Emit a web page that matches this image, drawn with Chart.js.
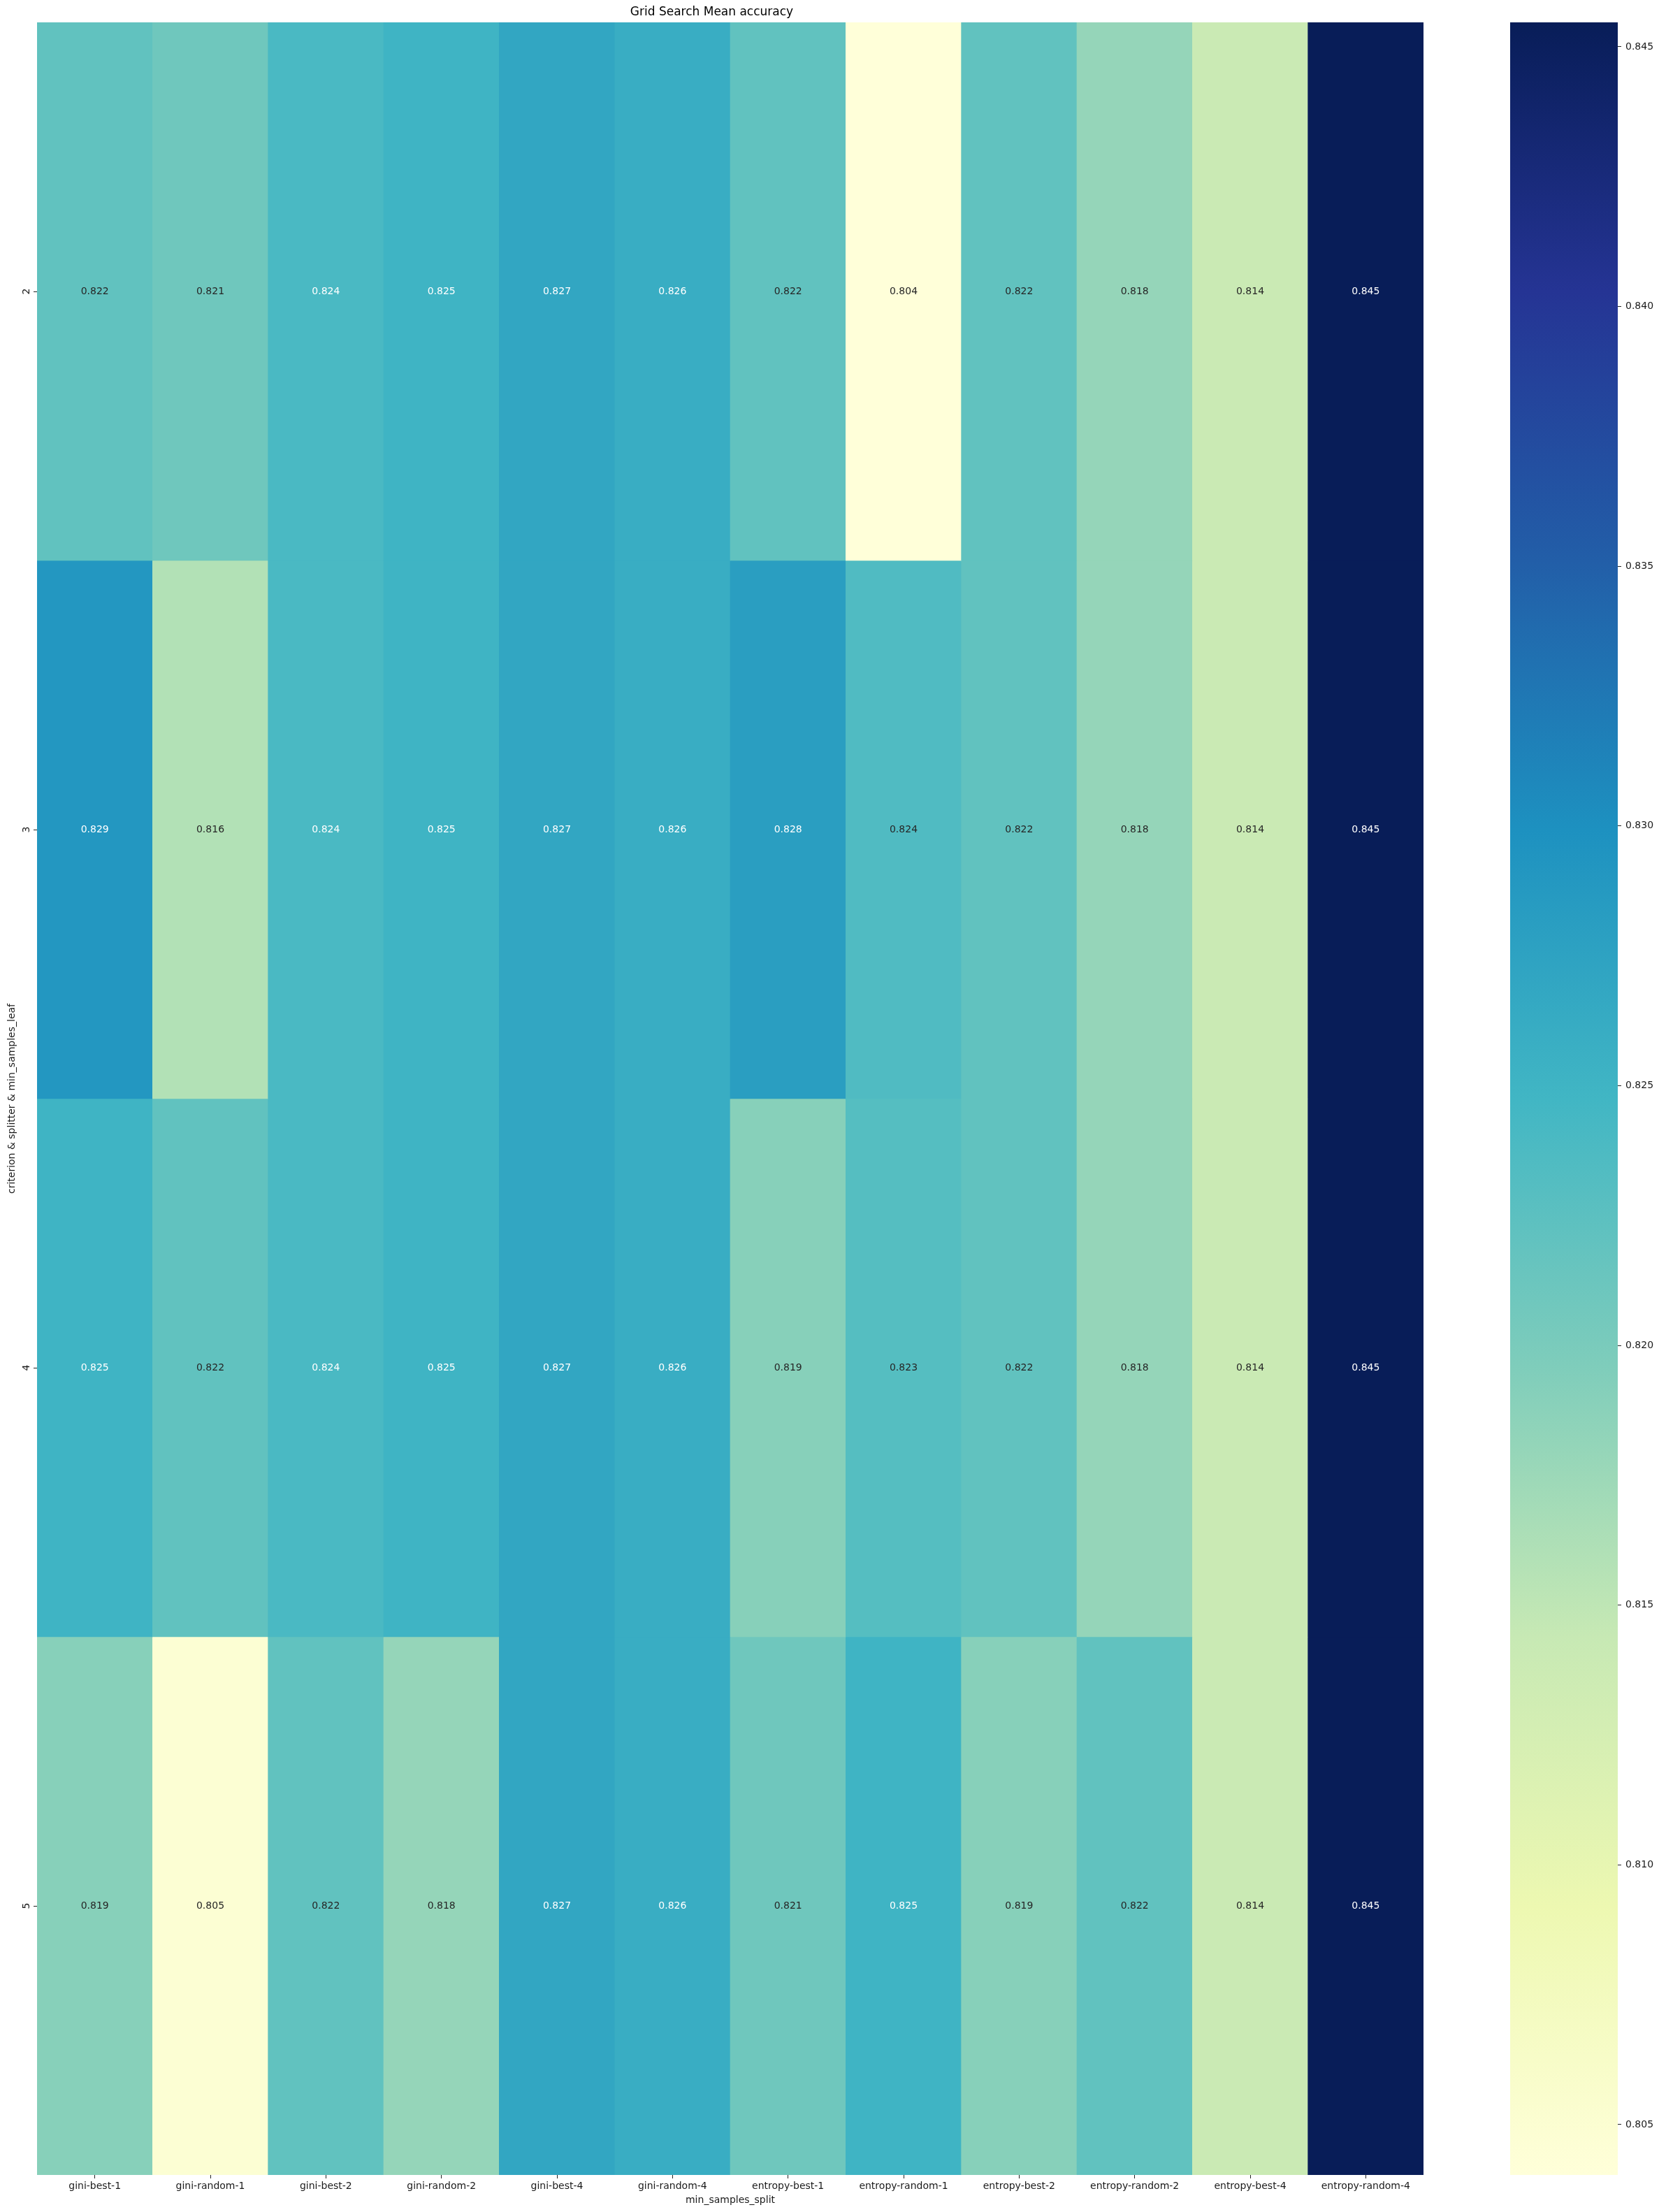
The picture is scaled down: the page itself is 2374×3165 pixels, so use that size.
<!DOCTYPE html>
<html>
<head>
<meta charset="utf-8">
<script src="https://cdn.jsdelivr.net/npm/chart.js@4/dist/chart.umd.min.js"></script>
<style>
  html, body { margin: 0; padding: 0; background: #fff; }
  #heat { position: absolute; left: 0; top: 0; }
  #bar { position: absolute; left: 2161px; top: 0; }
</style>
</head>
<body>
<canvas id="heat" width="2090" height="3165"></canvas>
<canvas id="bar" width="213" height="3165"></canvas>
<script>
// grid search results, one array per min_samples_leaf
const columns = ['gini-best-1', 'gini-random-1', 'gini-best-2', 'gini-random-2', 'gini-best-4', 'gini-random-4',
  'entropy-best-1', 'entropy-random-1', 'entropy-best-2', 'entropy-random-2', 'entropy-best-4', 'entropy-random-4'];
const rowLabels = ['2', '3', '4', '5'];
const leaf2 = [0.822, 0.821, 0.8241, 0.825, 0.827, 0.826, 0.822, 0.80403, 0.822, 0.818, 0.814, 0.84547];
const leaf3 = [0.829, 0.816, 0.8241, 0.825, 0.827, 0.826, 0.828, 0.8236, 0.822, 0.818, 0.814, 0.84547];
const leaf4 = [0.825, 0.822, 0.8241, 0.825, 0.827, 0.826, 0.819, 0.823, 0.822, 0.818, 0.814, 0.84547];
const leaf5 = [0.819, 0.805, 0.822, 0.818, 0.827, 0.826, 0.821, 0.825, 0.819, 0.822, 0.814, 0.84547];
const cbTicks = [0.805, 0.810, 0.815, 0.820, 0.825, 0.830, 0.835, 0.840, 0.845];

const rows = [leaf2, leaf3, leaf4, leaf5];
const all = rows.flat();
const vmin = Math.min(...all);
const vmax = Math.max(...all);

// YlGnBu
const ylgnbu = ['#ffffd9', '#edf8b1', '#c7e9b4', '#7fcdbb', '#41b6c4', '#1d91c0', '#225ea8', '#253494', '#081d58'];
const stops = ylgnbu.map(h => [parseInt(h.slice(1, 3), 16), parseInt(h.slice(3, 5), 16), parseInt(h.slice(5, 7), 16)]);

function rgbOf(v) {
  let t = (v - vmin) / (vmax - vmin);
  t = Math.max(0, Math.min(1, t));
  const idx = Math.min(255, Math.floor(t * 256));
  const x = idx / 255 * 8;
  const i = Math.min(7, Math.floor(x));
  const f = x - i;
  return stops[i].map((c, k) => c + (stops[i + 1][k] - c) * f);
}
function cmap(v) {
  const c = rgbOf(v);
  return 'rgb(' + c.map(Math.round).join(',') + ')';
}
function textColor(v) {
  const lin = rgbOf(v).map(c => {
    c = c / 255;
    return c <= 0.03928 ? c / 12.92 : Math.pow((c + 0.055) / 1.055, 2.4);
  });
  const lum = 0.2126 * lin[0] + 0.7152 * lin[1] + 0.0722 * lin[2];
  return lum > 0.408 ? '#262626' : '#ffffff';
}

const font = 'DejaVu Sans';
Chart.defaults.font.family = font;
Chart.defaults.color = '#1a1a1a';

const annotate = {
  id: 'annotate',
  afterDatasetsDraw(chart) {
    const ctx = chart.ctx;
    ctx.save();
    ctx.font = '14px "' + font + '"';
    ctx.textAlign = 'center';
    ctx.textBaseline = 'middle';
    chart.data.datasets.forEach((ds, d) => {
      chart.getDatasetMeta(d).data.forEach((el, j) => {
        const v = ds.acc[j];
        ctx.fillStyle = textColor(v);
        ctx.fillText(v.toFixed(3), el.x, (el.y + el.base) / 2);
      });
    });
    ctx.restore();
  }
};

new Chart(document.getElementById('heat'), {
  type: 'bar',
  data: {
    labels: columns,
    datasets: rows.map((vals, r) => ({
      label: rowLabels[r],
      data: vals.map(() => 1),
      acc: vals,
      backgroundColor: vals.map(cmap),
      borderWidth: 0,
      barPercentage: 1,
      categoryPercentage: 1
    }))
  },
  options: {
    responsive: false,
    animation: false,
    layout: { padding: { left: 0, right: 53, top: 0, bottom: 0 } },
    plugins: {
      legend: { display: false },
      tooltip: { enabled: false },
      title: {
        display: true,
        text: 'Grid Search Mean accuracy',
        color: '#000',
        font: { size: 17, weight: 'normal' },
        padding: { top: 7.8, bottom: 3.8 }
      }
    },
    scales: {
      x: {
        stacked: true,
        grid: { offset: false, drawOnChartArea: false, tickLength: 5, color: '#222' },
        border: { display: false },
        ticks: { font: { size: 14 }, color: '#1a1a1a', padding: 3, maxRotation: 0, autoSkip: false },
        title: { display: true, text: 'min_samples_split', font: { size: 14 }, color: '#1a1a1a', padding: { top: 0, bottom: 8.6 } },
        afterFit: s => { s.height = 53; }
      },
      y: {
        stacked: true,
        min: 0,
        max: 4,
        reverse: true,
        afterBuildTicks: s => { s.ticks = rowLabels.map((_, i) => ({ value: i + 0.5 })); },
        grid: { drawOnChartArea: false, tickLength: 5, color: '#222' },
        border: { display: false },
        ticks: {
          font: { size: 14 }, color: '#1a1a1a', padding: 5,
          minRotation: 90, maxRotation: 90, crossAlign: 'center',
          callback: (v, i) => rowLabels[i]
        },
        title: { display: true, text: 'criterion & splitter & min_samples_leaf', font: { size: 14 }, color: '#1a1a1a', padding: { top: 8.6, bottom: 0 } },
        afterFit: s => { s.width = 53; }
      }
    }
  },
  plugins: [annotate]
});

// colour bar
new Chart(document.getElementById('bar'), {
  type: 'bar',
  data: {
    labels: [''],
    datasets: [{
      data: [[vmin, vmax]],
      borderWidth: 0,
      barPercentage: 1,
      categoryPercentage: 1,
      backgroundColor: c => {
        const area = c.chart.chartArea;
        if (!area) return ylgnbu[0];
        const g = c.chart.ctx.createLinearGradient(0, area.bottom, 0, area.top);
        ylgnbu.forEach((col, i) => g.addColorStop(i / 8, col));
        return g;
      }
    }]
  },
  options: {
    responsive: false,
    animation: false,
    layout: { padding: { left: 0, right: 0, top: 32, bottom: 53 } },
    plugins: { legend: { display: false }, tooltip: { enabled: false } },
    scales: {
      x: { display: false },
      y: {
        position: 'right',
        min: vmin,
        max: vmax,
        afterBuildTicks: s => { s.ticks = cbTicks.map(v => ({ value: v })); },
        grid: { drawOnChartArea: false, tickLength: 5, color: '#222' },
        border: { display: false },
        ticks: { font: { size: 14 }, color: '#1a1a1a', padding: 6, callback: v => v.toFixed(3) },
        afterFit: s => { s.width = 59; }
      }
    }
  }
});
</script>
</body>
</html>
